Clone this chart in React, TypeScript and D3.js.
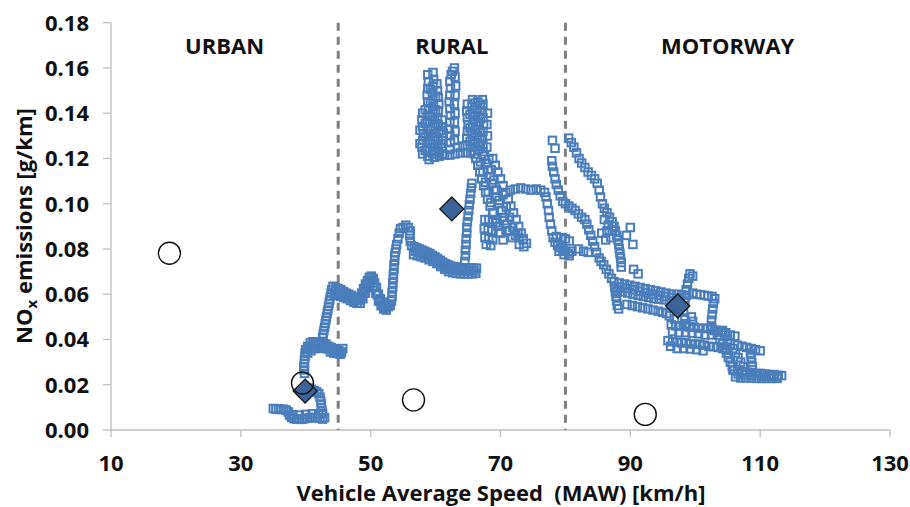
import React from 'react';
import * as d3 from 'd3';

type Pt = [number, number];

// speed [km/h], NOx [g/km]
const urbanTrace: Pt[] = [
  [35.0, .0095], [35.4, .0092], [35.8, .0094], [36.2, .0090], [36.6, .0092], [37.0, .0088], [37.3, .0080],
  [37.5, .0066], [37.8, .0056], [38.2, .0050], [38.6, .0048], [39.0, .0050], [39.4, .0047], [39.8, .0050],
  [40.2, .0052], [40.6, .0055], [41.0, .0053], [41.4, .0056], [41.8, .0055], [42.2, .0052], [42.6, .0048], [42.9, .0055],
  [38.0, .0068], [39.0, .0066], [40.0, .0069], [41.0, .0072], [42.0, .0070],
  [42.6, .0072], [42.5, .0086], [42.4, .0100], [42.4, .0115], [42.3, .0130], [42.2, .0145], [42.0, .0160],
  [41.7, .0168], [41.3, .0174], [40.9, .0180], [40.5, .0186],
  [39.8, .0250], [39.8, .0265], [39.7, .0280], [39.8, .0295], [39.8, .0310], [39.9, .0325], [39.9, .0340],
  [40.0, .0355], [40.3, .0370], [40.7, .0385], [41.1, .0390], [41.5, .0388], [41.9, .0390], [42.3, .0385],
  [42.7, .0382], [43.1, .0380], [43.5, .0370], [43.9, .0365], [44.3, .0360], [44.7, .0355], [45.1, .0350],
  [45.5, .0345], [45.7, .0360],
  [40.3, .0340], [40.8, .0350], [41.3, .0360], [41.8, .0365], [42.3, .0360], [42.8, .0362], [43.3, .0360],
  [43.8, .0345], [44.3, .0340], [44.8, .0338], [45.3, .0335],
  [40.6, .0362], [41.2, .0375], [41.8, .0378], [42.4, .0372], [43.0, .0370], [43.6, .0358], [44.2, .0350],
  [44.8, .0346], [45.4, .0340],
  [42.6, .0410], [42.7, .0425], [42.8, .0440], [42.9, .0455], [43.0, .0470], [43.1, .0485], [43.2, .0500],
  [43.3, .0515], [43.4, .0530], [43.5, .0545], [43.6, .0560], [43.7, .0575], [43.8, .0590], [43.9, .0605], [44.0, .0620],
];

const ruralClimbTrace: Pt[] = [
  [44.2, .0635], [44.6, .0630], [45.0, .0625], [45.4, .0620], [45.8, .0612], [46.2, .0605], [46.6, .0600],
  [47.0, .0595], [47.4, .0588], [47.8, .0580], [48.2, .0585], [48.6, .0605], [48.9, .0625], [49.2, .0645],
  [49.5, .0660], [49.8, .0675], [50.1, .0680], [50.4, .0670], [50.6, .0650], [50.9, .0630], [51.2, .0600],
  [51.5, .0580], [51.8, .0565], [52.1, .0555], [52.4, .0550], [52.7, .0545], [53.0, .0550],
  [44.4, .0600], [44.9, .0595], [45.4, .0590], [45.9, .0585], [46.4, .0580], [46.9, .0572], [47.4, .0565],
  [47.9, .0560], [48.4, .0560], [48.8, .0580], [49.2, .0605], [49.6, .0630], [50.0, .0650], [50.4, .0635],
  [50.8, .0605], [51.2, .0570], [51.6, .0550], [52.0, .0535], [52.4, .0530],
  [44.6, .0615], [45.2, .0608], [45.8, .0600], [46.4, .0593], [47.0, .0585], [47.6, .0576], [48.2, .0572],
  [48.6, .0590], [49.0, .0615], [49.4, .0640], [49.8, .0660], [50.2, .0662], [50.6, .0630], [51.0, .0598],
  [51.4, .0570], [51.8, .0550], [52.2, .0542],
  [53.2, .0570], [53.3, .0590], [53.3, .0610], [53.4, .0630], [53.4, .0650], [53.5, .0670], [53.5, .0690],
  [53.6, .0710], [53.6, .0730], [53.7, .0750], [53.7, .0770], [53.8, .0785], [53.9, .0800], [54.0, .0820],
  [54.2, .0845], [54.4, .0870], [54.6, .0890], [55.0, .0895], [55.4, .0905], [55.8, .0895], [56.1, .0880],
  [56.0, .0860], [56.1, .0835], [56.3, .0815],
  [56.7, .0810], [57.1, .0805], [57.5, .0800], [57.9, .0795], [58.3, .0790], [58.7, .0785], [59.1, .0780],
  [59.5, .0772], [59.9, .0765], [60.3, .0758], [60.7, .0750], [61.1, .0742], [61.5, .0735], [61.9, .0730],
  [62.3, .0725], [62.7, .0722], [63.1, .0720], [63.5, .0718], [63.9, .0716], [64.3, .0716], [64.7, .0716],
  [65.1, .0716], [65.5, .0716], [65.9, .0716], [66.3, .0715],
  [56.6, .0775], [57.2, .0770], [57.8, .0765], [58.4, .0760], [59.0, .0752], [59.6, .0745], [60.2, .0735],
  [60.8, .0722], [61.4, .0710], [62.0, .0700], [62.6, .0695], [63.2, .0692], [63.8, .0690], [64.4, .0690],
  [65.0, .0690], [65.6, .0690], [66.2, .0692],
  [56.9, .0790], [57.5, .0785], [58.1, .0778], [58.7, .0772], [59.3, .0765], [59.9, .0755], [60.5, .0742],
  [61.1, .0730], [61.7, .0718], [62.3, .0712], [62.9, .0708], [63.5, .0705], [64.1, .0703], [64.7, .0703],
  [65.3, .0703], [65.9, .0703],
  [64.5, .0745], [64.6, .0770], [64.6, .0795], [64.7, .0820], [64.7, .0845], [64.8, .0870], [64.8, .0895],
  [64.9, .0920], [65.0, .0945], [65.1, .0970], [65.2, .0995], [65.3, .1020], [65.4, .1045], [65.5, .1070], [65.6, .1090],
];

const ruralPeakTrace: Pt[] = [
  [58.0, .122], [57.9, .125], [58.0, .128], [58.1, .131], [58.0, .134], [57.9, .137], [58.0, .140],
  [58.8, .121], [58.7, .124], [58.8, .127], [58.9, .130], [58.8, .133], [58.7, .136], [58.8, .139],
  [58.9, .142], [58.8, .145], [58.7, .148], [58.8, .151], [58.9, .154], [58.8, .157],
  [59.6, .122], [59.5, .125], [59.6, .128], [59.7, .131], [59.6, .134], [59.5, .137], [59.6, .140],
  [59.7, .143], [59.6, .146], [59.5, .149], [59.6, .152], [59.7, .155], [59.6, .158],
  [60.4, .123], [60.3, .126], [60.4, .129], [60.5, .132], [60.4, .135], [60.3, .138], [60.4, .141],
  [60.5, .144], [60.4, .147], [60.3, .150], [60.2, .153],
  [61.1, .122], [61.0, .125], [61.1, .128], [61.2, .131], [61.1, .134], [61.0, .137],
  [58.4, .1235], [58.4, .1295], [58.4, .1355], [58.4, .1415], [59.2, .1265], [59.2, .1325], [59.2, .1385],
  [59.2, .1445], [59.2, .1505], [60.0, .1235], [60.0, .1295], [60.0, .1355], [60.0, .1415], [60.0, .1475],
  [60.8, .1265], [60.8, .1325], [57.6, .1265], [57.6, .1325],
  [62.2, .124], [62.3, .127], [62.2, .130], [62.1, .133], [62.2, .136], [62.3, .139], [62.2, .142],
  [62.1, .145], [62.2, .148], [62.3, .151], [62.2, .154], [62.4, .157],
  [62.9, .128], [63.0, .132], [62.9, .136], [63.0, .140], [62.9, .144], [63.0, .148], [63.1, .152],
  [63.0, .156], [62.9, .160], [62.6, .1585],
  [64.9, .126], [64.8, .129], [64.9, .132], [65.0, .135], [64.9, .138], [64.8, .141], [64.9, .144],
  [65.7, .125], [65.7, .128], [65.6, .131], [65.7, .134], [65.8, .137], [65.7, .140], [65.6, .143], [65.7, .146],
  [66.5, .124], [66.5, .127], [66.4, .130], [66.5, .133], [66.6, .136], [66.5, .139], [66.4, .142], [66.5, .145],
  [67.3, .123], [67.3, .126], [67.2, .129], [67.3, .132], [67.4, .135], [67.3, .138], [67.2, .141],
  [67.3, .144], [67.2, .146],
  [67.9, .125], [68.0, .130], [67.9, .135], [68.0, .140],
  [65.3, .1275], [65.3, .1335], [65.3, .1395], [66.1, .1265], [66.1, .1325], [66.1, .1385], [66.1, .1445],
  [66.9, .1255], [66.9, .1315], [66.9, .1375], [66.9, .1435],
  [59.0, .1195], [59.8, .1205], [60.6, .1210], [61.4, .1215], [62.2, .1215], [63.0, .1220], [63.8, .1225],
  [64.6, .1225], [65.4, .1225], [66.0, .1220], [61.0, .1245], [63.4, .1250], [64.2, .1255],
];

const ruralDescentTrace: Pt[] = [
  [66.2, .120], [66.5, .117], [66.8, .114], [67.1, .111], [67.4, .108], [67.7, .105], [68.0, .102],
  [68.4, .099], [68.8, .096], [69.2, .093], [69.6, .090], [70.0, .087], [70.4, .084],
  [67.5, .121], [67.8, .118], [68.1, .115], [68.4, .112], [68.7, .109], [69.0, .106], [69.4, .103],
  [69.8, .100], [70.2, .097], [70.6, .094], [71.0, .091], [71.4, .088], [71.8, .085],
  [68.8, .120], [69.2, .117], [69.6, .114], [70.0, .111], [70.4, .108], [70.8, .105], [71.2, .102],
  [71.6, .099], [72.0, .096], [72.4, .093], [72.8, .090], [73.2, .087], [73.5, .084],
  [66.9, .1185], [67.3, .1140], [67.7, .1095], [68.1, .1050], [68.5, .1005], [68.9, .0960], [69.3, .0915],
  [69.7, .0870], [68.2, .1195], [68.6, .1150], [69.0, .1105], [69.4, .1060], [69.8, .1015], [70.2, .0970],
  [70.6, .0925], [71.0, .0880], [70.4, .1040], [70.9, .0985], [71.4, .0940], [71.9, .0895], [72.3, .0860], [72.7, .0870],
  [67.6, .093], [68.2, .093], [68.8, .092], [67.5, .089], [68.1, .0885], [68.7, .088], [67.6, .085],
  [68.2, .0845], [68.8, .084], [67.8, .082], [68.5, .0815],
  [72.8, .085], [73.5, .0845], [72.9, .082], [73.6, .081], [74.0, .0825],
  [71.5, .1060], [72.3, .1065], [73.1, .1070], [73.9, .1065], [74.7, .1060], [75.5, .1065], [76.2, .1060],
  [76.8, .1050], [77.0, .1030], [77.2, .1000], [77.4, .0970], [77.5, .0940], [77.7, .0910], [77.9, .0880],
  [78.1, .0850], [78.4, .0830], [78.8, .0815], [79.2, .0805], [79.6, .0795], [80.0, .0790], [80.5, .0780],
  [78.6, .0855], [79.3, .0850], [80.0, .0845], [80.6, .0835], [79.0, .0790], [79.8, .0775], [80.6, .0770], [81.0, .0790],
];

const motorwayUpperTrace: Pt[] = [
  [78.0, .1280], [78.4, .1245], [77.9, .1190], [78.0, .1165], [78.2, .1140], [78.4, .1110], [78.6, .1085],
  [78.9, .1060], [79.2, .1035], [79.6, .1010], [80.0, .1000], [80.5, .0990], [81.0, .0980], [81.5, .0970],
  [82.0, .0955], [82.5, .0940], [83.0, .0930], [83.3, .0910], [83.6, .0885], [83.9, .0860], [84.2, .0835],
  [84.5, .0810], [84.8, .0785], [85.2, .0760], [85.5, .0745], [85.9, .0730], [86.3, .0710], [86.7, .0690], [87.1, .0670],
  [82.0, .0800], [82.8, .0790], [83.5, .0785],
  [80.5, .1290], [80.9, .1270], [81.3, .1250], [81.7, .1225], [82.1, .1200], [82.5, .1180], [83.0, .1160],
  [83.5, .1140], [84.0, .1125], [84.5, .1110], [84.9, .1090], [85.2, .1060], [85.4, .1030], [85.7, .1000],
  [86.0, .0980], [86.4, .0960], [86.8, .0940], [87.2, .0920], [87.5, .0900], [87.7, .0880], [87.9, .0860],
  [88.1, .0840], [88.2, .0820], [88.3, .0800], [88.4, .0780], [88.5, .0760], [88.6, .0740], [88.6, .0720],
  [86.0, .0930], [86.6, .0905], [87.2, .0880], [86.4, .0880], [87.0, .0850], [85.6, .0870], [86.2, .0840],
  [90.0, .0895], [90.4, .0820], [89.4, .0860],
  [87.6, .0630], [87.7, .0610], [87.8, .0590], [87.9, .0570], [88.0, .0550], [88.2, .0535],
];

const motorwayLowerTrace: Pt[] = [
  [87.5, .0655], [88.3, .0650], [89.1, .0645], [89.9, .0640], [90.7, .0635], [91.5, .0630], [92.3, .0625],
  [93.1, .0620], [93.9, .0615], [94.7, .0610], [95.5, .0605], [96.3, .0600], [97.1, .0600], [97.9, .0598], [98.7, .0595],
  [88.0, .0615], [88.8, .0610], [89.6, .0605], [90.4, .0600], [91.2, .0595], [92.0, .0590], [92.8, .0585],
  [93.6, .0580], [94.4, .0578], [95.2, .0575], [96.0, .0570], [96.8, .0570], [97.6, .0568], [98.4, .0570],
  [88.4, .0632], [89.4, .0626], [90.4, .0620], [91.4, .0613], [92.4, .0606], [93.4, .0600], [94.4, .0595],
  [95.4, .0590], [96.4, .0585], [97.4, .0584], [98.4, .0583],
  [90.5, .0710], [91.2, .0690],
  [89.5, .0555], [90.3, .0550], [91.1, .0545], [91.9, .0540], [92.7, .0535], [93.5, .0530], [94.3, .0525],
  [95.0, .0520], [95.6, .0515], [96.0, .0505], [96.8, .0490],
  [98.6, .0620], [98.8, .0645], [99.0, .0670], [99.2, .0690], [99.6, .0680],
  [99.6, .0605], [100.2, .0600], [100.8, .0598], [101.4, .0595], [102.0, .0592], [102.6, .0590], [103.0, .0580],
  [102.8, .0560], [102.7, .0535], [102.6, .0510], [102.5, .0485], [102.5, .0460],
  [98.2, .0520], [98.4, .0495], [98.6, .0470], [99.4, .0500], [99.6, .0480],
  [96.3, .0465], [97.0, .0460], [97.7, .0460], [98.4, .0458], [99.1, .0455], [99.8, .0455], [100.5, .0450],
  [101.2, .0450], [101.9, .0448], [102.6, .0445], [103.3, .0440], [104.0, .0435], [104.7, .0430], [105.4, .0420], [106.1, .0415],
  [96.5, .0435], [97.5, .0430], [98.5, .0430], [99.5, .0428], [100.5, .0425], [101.5, .0420], [102.5, .0420],
  [95.8, .0395], [96.5, .0390], [97.2, .0388], [97.9, .0385], [98.6, .0385], [99.3, .0380], [100.0, .0380],
  [100.7, .0378], [101.4, .0375], [102.1, .0370], [102.8, .0368], [103.5, .0365], [104.2, .0360], [104.9, .0355],
  [96.2, .0370], [97.2, .0360], [98.2, .0360], [99.2, .0358], [100.2, .0355], [101.2, .0350],
  [103.0, .0440], [103.4, .0420], [103.8, .0400], [104.2, .0380], [104.5, .0360], [104.8, .0340], [105.1, .0320],
  [105.4, .0300], [105.7, .0280], [106.0, .0265],
  [104.2, .0440], [104.6, .0420], [105.0, .0400], [105.4, .0380], [105.8, .0360], [106.2, .0340], [106.6, .0320],
  [107.0, .0300], [107.4, .0280],
  [106.5, .0375], [107.2, .0370], [107.9, .0365], [108.6, .0360], [109.3, .0355], [110.0, .0350],
  [108.5, .0340], [108.6, .0320], [108.7, .0300], [108.8, .0280],
  [105.8, .0265], [106.5, .0260], [107.2, .0258], [107.9, .0255], [108.6, .0255], [109.3, .0250], [110.0, .0250],
  [110.7, .0248], [111.4, .0245], [112.1, .0245], [112.8, .0242], [113.3, .0240],
  [106.2, .0235], [107.0, .0230], [107.8, .0230], [108.6, .0230], [109.4, .0228], [110.2, .0228], [111.0, .0228],
  [111.8, .0228], [112.6, .0228],
  [106.6, .0248], [107.6, .0244], [108.6, .0242], [109.6, .0240], [110.6, .0238], [111.6, .0237], [112.6, .0236],
];

const tripAverages: Pt[] = [[39.9, .0172], [62.5, .0977], [97.3, .0548]];
const referenceCycles: Pt[] = [[19.0, .0781], [39.5, .0208], [56.6, .0133], [92.3, .0069]];

const xTicks = [10, 30, 50, 70, 90, 110, 130];
const yTicks = [0, 0.02, 0.04, 0.06, 0.08, 0.1, 0.12, 0.14, 0.16, 0.18];
const zoneBounds = [45, 80];
const zoneNames = ['URBAN', 'RURAL', 'MOTORWAY'];
const zoneCentres = [27.5, 62.5, 105];

const W = 910;
const H = 507;
const FONT = "'Open Sans', 'Liberation Sans', sans-serif";
const BLUE = '#4a7ebb';

const App: React.FC = () => {
  const x = d3.scaleLinear().domain([10, 130]).range([111, 890]);
  const y = d3.scaleLinear().domain([0, 0.18]).range([430, 22.7]);
  const fmt = d3.format('.2f');

  const allSquares = [
    ...urbanTrace, ...ruralClimbTrace, ...ruralPeakTrace,
    ...ruralDescentTrace, ...motorwayUpperTrace, ...motorwayLowerTrace,
  ];
  const sq = 7.5;
  const dia = 12;
  const diamondPath = (cx: number, cy: number) =>
    `M${cx},${cy - dia}L${cx + dia},${cy}L${cx},${cy + dia}L${cx - dia},${cy}Z`;

  return (
    <div style={{ position: 'absolute', left: 0, top: 0 }}>
      <svg width={W} height={H} style={{ display: 'block', background: '#fff' }}>
        {/* axes */}
        <line x1={x(10)} x2={x(10)} y1={y(0.18)} y2={y(0)} stroke="#bfbfbf" strokeWidth={1.3} />
        <line x1={x(10)} x2={x(130)} y1={y(0)} y2={y(0)} stroke="#bfbfbf" strokeWidth={1.3} />
        {yTicks.map(t => (
          <g key={`y${t}`}>
            <line x1={x(10) - 8} x2={x(10)} y1={y(t)} y2={y(t)} stroke="#bfbfbf" strokeWidth={1.3} />
            <text x={89} y={y(t) + 7.8} textAnchor="end" fontFamily={FONT} fontWeight={700} fontSize={22} fill="#111">
              {fmt(t)}
            </text>
          </g>
        ))}
        {xTicks.map(t => (
          <g key={`x${t}`}>
            <line x1={x(t)} x2={x(t)} y1={y(0)} y2={y(0) + 7} stroke="#bfbfbf" strokeWidth={1.3} />
            <text x={x(t)} y={471} textAnchor="middle" fontFamily={FONT} fontWeight={700} fontSize={22} fill="#111">
              {t}
            </text>
          </g>
        ))}

        {/* zone dividers */}
        {zoneBounds.map(b => (
          <line key={`z${b}`} x1={x(b)} x2={x(b)} y1={y(0.18)} y2={y(0)}
            stroke="#7f7f7f" strokeWidth={3} strokeDasharray="8,6" />
        ))}
        {zoneNames.map((n, i) => (
          <text key={n} x={x(zoneCentres[i])} y={54} textAnchor="middle" fontFamily={FONT}
            fontWeight={700} fontSize={22} fill="#111">{n}</text>
        ))}

        {/* moving-average windows */}
        <g fill="none" stroke={BLUE} strokeWidth={2}>
          {allSquares.map((d, i) => (
            <rect key={i} x={x(d[0]) - sq / 2} y={y(d[1]) - sq / 2} width={sq} height={sq} />
          ))}
        </g>

        {tripAverages.map((d, i) => (
          <path key={`d${i}`} d={diamondPath(x(d[0]), y(d[1]))} fill="#3b6598" stroke="#1a1a1a" strokeWidth={1.3} />
        ))}
        {referenceCycles.map((d, i) => (
          <circle key={`c${i}`} cx={x(d[0])} cy={y(d[1])} r={11} fill="none" stroke="#111" strokeWidth={1.4} />
        ))}

        {/* axis titles */}
        <text x={501} y={501} textAnchor="middle" fontFamily={FONT} fontWeight={700} fontSize={22}
          fill="#111" style={{ whiteSpace: 'pre' }}>
          Vehicle Average Speed  (MAW) [km/h]
        </text>
        <text transform="translate(32,226) rotate(-90)" textAnchor="middle" fontFamily={FONT}
          fontWeight={700} fontSize={22} fill="#111">
          NO<tspan fontSize={15} dy={5}>x</tspan><tspan dy={-5}> emissions [g/km]</tspan>
        </text>
      </svg>
    </div>
  );
};

export default App;
